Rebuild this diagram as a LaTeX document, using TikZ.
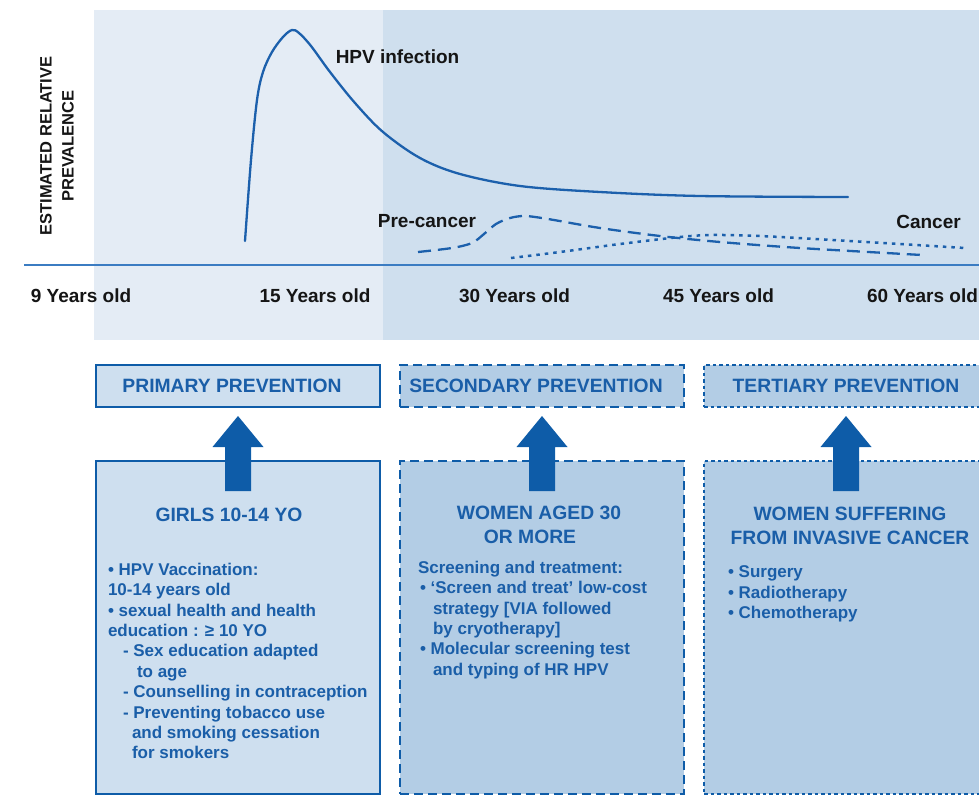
\documentclass[tikz,border=0pt]{standalone}
\usepackage{fontspec}
\setmainfont{Liberation Sans}
\definecolor{panellight}{HTML}{E4ECF5}
\definecolor{paneldark}{HTML}{CFDFEE}
\definecolor{boxlight}{HTML}{CEDFEF}
\definecolor{boxdark}{HTML}{B3CDE5}
\definecolor{navy}{HTML}{0E5CA8}
\definecolor{inkblue}{HTML}{1A5EA8}
\definecolor{curveblue}{HTML}{1C60AC}
\definecolor{axisblue}{HTML}{3B7CC2}
\definecolor{labelink}{HTML}{151515}

% fat upward arrow from a lower box into the box above it
\newcommand\blockarrow[2]{%
  \fill[navy] ([xshift=-13pt,yshift=-30pt]#1.north)
    -- ([xshift=-13pt,yshift=-40pt]#2.south)
    -- ([xshift=-25.5pt,yshift=-40pt]#2.south)
    -- ([yshift=-9pt]#2.south)
    -- ([xshift=25.5pt,yshift=-40pt]#2.south)
    -- ([xshift=13pt,yshift=-40pt]#2.south)
    -- ([xshift=13pt,yshift=-30pt]#1.north) -- cycle;}

\begin{document}
\begin{tikzpicture}[x=1pt,y=-1pt,
  every node/.style={inner sep=0pt, outer sep=0pt},
  chartlabel/.style={text=labelink, font=\bfseries\fontsize{19}{23}\selectfont},
  axislabel/.style={text=labelink, rotate=90, align=center, font=\bfseries\fontsize{16.5}{22}\selectfont},
  stagebox/.style={draw=navy, line width=2pt, minimum width=284pt, minimum height=42pt,
    text=inkblue, font=\bfseries\fontsize{19.3}{23}\selectfont},
  groupbox/.style={draw=navy, line width=2pt, minimum width=284pt, minimum height=333pt},
  solidrule/.style={fill=boxlight},
  dashrule/.style={fill=boxdark, dash pattern=on 9pt off 5pt},
  dotrule/.style={fill=boxdark, dash pattern=on 3.5pt off 3pt},
  heading/.style={text=inkblue, align=center, font=\bfseries\fontsize{19.3}{24}\selectfont},
  bodytext/.style={text=inkblue, align=left, anchor=north west, font=\bfseries\fontsize{17}{20.4}\selectfont},
  curve/.style={curveblue, line width=2.3pt},
]
\useasboundingbox (0,0) rectangle (979,795);
\clip (0,0) rectangle (979,795);

% chart background
\fill[panellight] (94,10) rectangle (383,340);
\fill[paneldark] (383,10) rectangle (979,340);
\draw[axisblue, line width=1.3pt] (24,265) -- (979,265);

% prevalence curves
\draw[curve, line cap=round] plot[smooth, tension=0.55] coordinates {
  (245,241) (251,160) (257,100) (263,72) (272,52) (283,37) (292,30) (299,33)
  (311,46) (330,72) (355,103) (383,132) (420,158) (460,174) (520,186)
  (600,192) (700,196) (848,197)};
\draw[curve, dash pattern=on 13pt off 7pt] plot[smooth, tension=0.5] coordinates {
  (418,252) (452,248) (472,243) (484,234) (496,224) (510,218) (525,216)
  (548,219) (600,228) (660,236) (720,242) (800,248) (922,255)};
\draw[curve, line width=2.5pt, dash pattern=on 3.5pt off 5pt] plot[smooth, tension=0.5] coordinates {
  (511,258) (560,252) (620,244) (680,237) (712,235) (760,236) (850,241) (965,248)};

% chart labels
\node[axislabel] (ylab) at (57,146) {ESTIMATED RELATIVE\\PREVALENCE};
\node[chartlabel] (hpv) at (397.5,57) {HPV infection};
\node[chartlabel] (precancer) at (427,221) {Pre-cancer};
\node[chartlabel] (cancer) at (928.5,222) {Cancer};
\node[chartlabel] (age9) at (81,296) {9 Years old};
\node[chartlabel] (age15) at (315,296) {15 Years old};
\node[chartlabel] (age30) at (514.5,296) {30 Years old};
\node[chartlabel] (age45) at (718.5,296) {45 Years old};
\node[chartlabel] (age60) at (922.5,296) {60 Years old};

% prevention stages
\node[stagebox, solidrule] (primary) at (238,386) {PRIMARY PREVENTION\hspace*{12pt}};
\node[stagebox, dashrule] (secondary) at (542,386) {SECONDARY PREVENTION\hspace*{12pt}};
\node[stagebox, dotrule] (tertiary) at (846,386) {TERTIARY PREVENTION};

% target groups
\node[groupbox, solidrule] (girls) at (238,627.5) {};
\node[groupbox, dashrule] (women) at (542,627.5) {};
\node[groupbox, dotrule] (invasive) at (846,627.5) {};

\blockarrow{girls}{primary}
\blockarrow{women}{secondary}
\blockarrow{invasive}{tertiary}

\node[heading] (girlshead) at (229,515) {GIRLS 10-14 YO};
\node[heading] (womenhead) at (539,525) {WOMEN AGED 30\\OR MORE\hspace*{18pt}};
\node[heading] (invasivehead) at (850,525.5) {WOMEN SUFFERING\\FROM INVASIVE CANCER};

\node[bodytext] (girlsbody) at (108,563) {%
  • HPV Vaccination:\\
  10-14 years old\\
  • sexual health and health\\
  education : ≥ 10 YO\\
  \hspace*{15pt}- Sex education adapted\\
  \hspace*{29pt}to age\\
  \hspace*{15pt}- Counselling in contraception\\
  \hspace*{15pt}- Preventing tobacco use\\
  \hspace*{24pt}and smoking cessation\\
  \hspace*{24pt}for smokers};

\node[bodytext] (womenbody) at (418,561) {%
  Screening and treatment:\\
  \hspace*{2pt}• ‘Screen and treat’ low-cost\\
  \hspace*{15pt}strategy [VIA followed\\
  \hspace*{15pt}by cryotherapy]\\
  \hspace*{2pt}• Molecular screening test\\
  \hspace*{15pt}and typing of HR HPV};

\node[bodytext] (invasivebody) at (728,566) {%
  • Surgery\\
  • Radiotherapy\\
  • Chemotherapy};
\end{tikzpicture}
\end{document}
